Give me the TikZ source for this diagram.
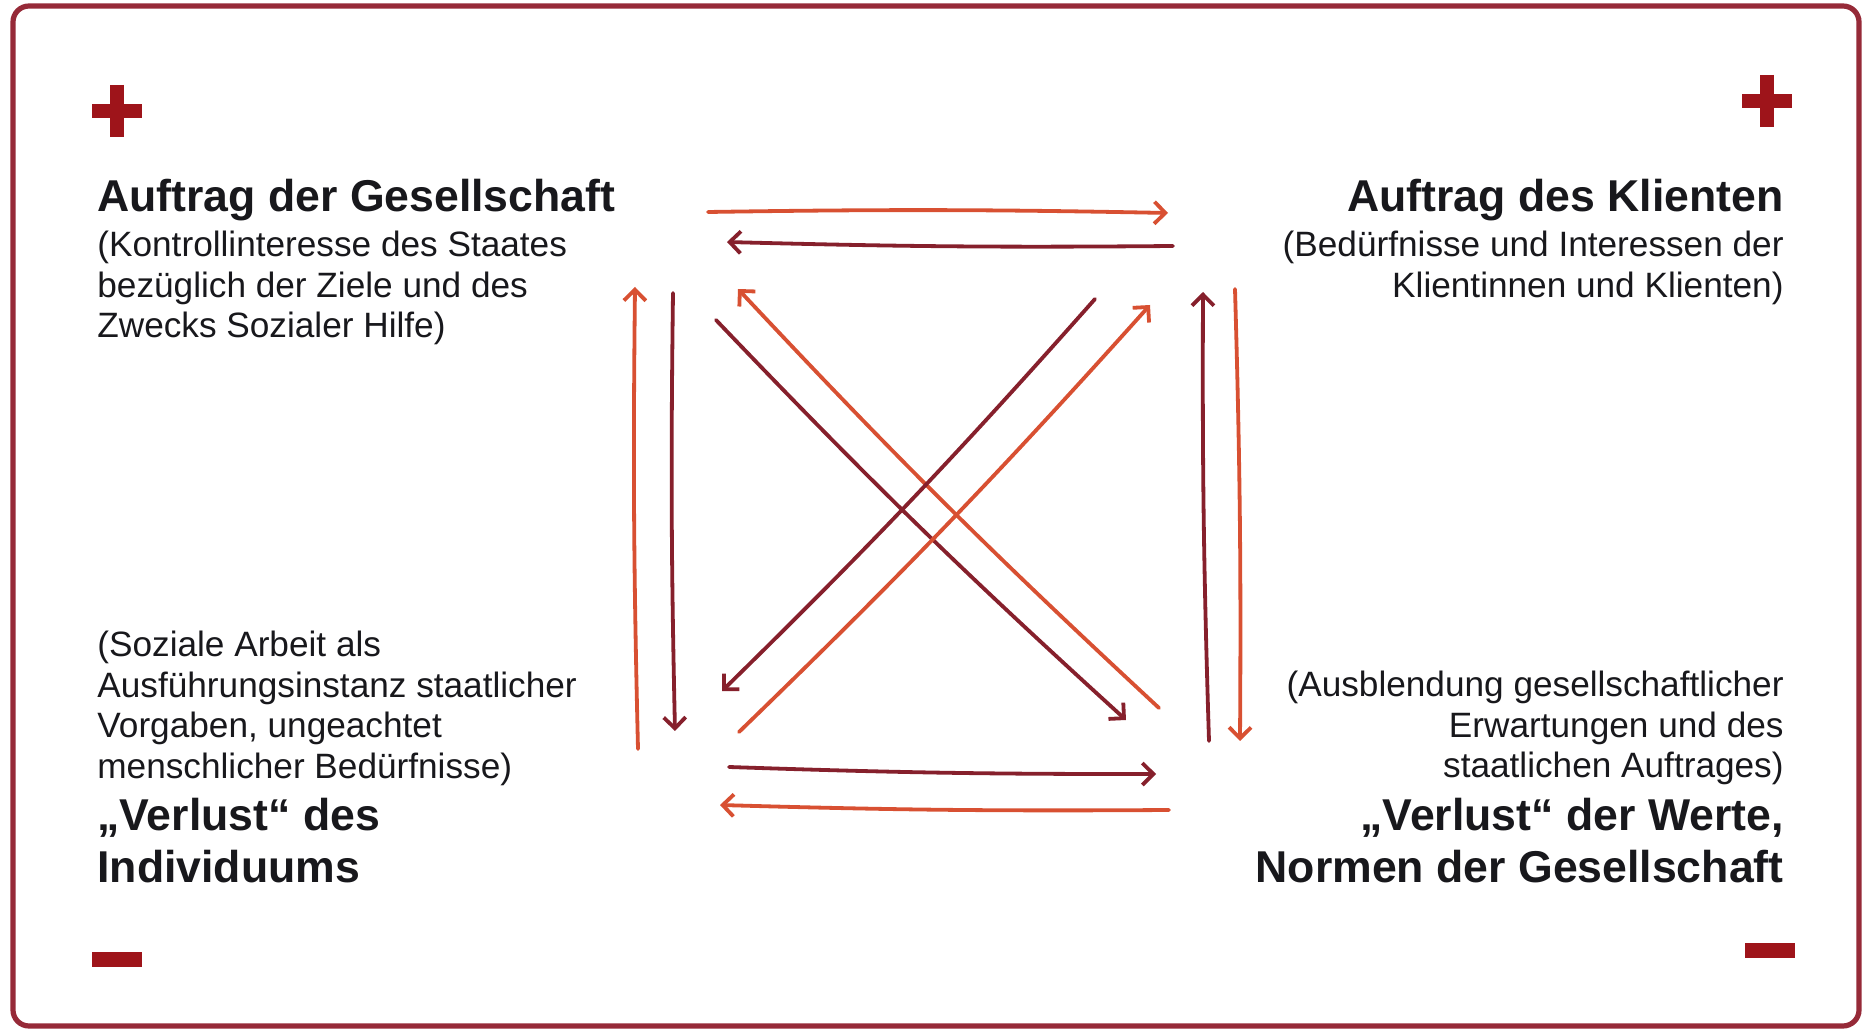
\documentclass[tikz,border=0pt]{standalone}
\usepackage{fontspec}
\setmainfont{Liberation Sans}
\usetikzlibrary{arrows.meta}
\usepackage{xcolor}
\definecolor{frame}{RGB}{150,42,56}
\definecolor{warm}{RGB}{216,80,50}
\definecolor{deep}{RGB}{134,32,44}
\definecolor{signred}{RGB}{158,20,26}
\definecolor{ink}{RGB}{24,24,28}

\tikzset{
  head/.style={font=\fontsize{22.3}{26}\selectfont\bfseries, text=ink, inner sep=0pt},
  note/.style={font=\fontsize{17.6}{20.25}\selectfont, text=ink, inner sep=0pt},
  link/.style={line width=1.9pt, line cap=round,
    -{Straight Barb[length=5.5pt,width=11pt]}},
  warmlink/.style={link, draw=warm},
  deeplink/.style={link, draw=deep},
  sign/.style={draw=signred, line width=7pt}
}
\newcommand{\cornerlines}[2]{\begin{tabular}[t]{@{}#1@{}}#2\end{tabular}}

\begin{document}
\begin{tikzpicture}[x=0.5pt, y=-0.5pt]
\useasboundingbox (0,0) rectangle (1865,1031);
\fill[white] (0,0) rectangle (1865,1031);
\draw[frame, line width=2.6pt, rounded corners=8pt] (13,6) rectangle (1859,1026);

% plus and minus marks
\coordinate (plusL) at (117,111);
\coordinate (plusR) at (1767,101);
\coordinate (minusL) at (117,959);
\coordinate (minusR) at (1770,950);
\draw[sign] ([xshift=-12.5pt]plusL) -- ([xshift=12.5pt]plusL)
            ([yshift=13pt]plusL) -- ([yshift=-13pt]plusL);
\draw[sign] ([xshift=-12.5pt]plusR) -- ([xshift=12.5pt]plusR)
            ([yshift=13pt]plusR) -- ([yshift=-13pt]plusR);
\draw[sign, line width=7.5pt] ([xshift=-12.5pt]minusL) -- ([xshift=12.5pt]minusL);
\draw[sign, line width=7.5pt] ([xshift=-12.5pt]minusR) -- ([xshift=12.5pt]minusR);

% corner texts
\node[head, anchor=base west] (gesTitle) at (97,212) {Auftrag der Gesellschaft};
\node[note, anchor=base west] (gesNote) at (97,257)
  {\cornerlines{l}{(Kontrollinteresse des Staates\\ bezüglich der Ziele und des\\ Zwecks Sozialer Hilfe)}};
\node[head, anchor=base east] (kliTitle) at (1784,212) {Auftrag des Klienten};
\node[note, anchor=base east] (kliNote) at (1784,257)
  {\cornerlines{r}{(Bedürfnisse und Interessen der\\ Klientinnen und Klienten)}};
\node[note, anchor=base west] (indNote) at (97,657)
  {\cornerlines{l}{(Soziale Arbeit als\\ Ausführungsinstanz staatlicher\\ Vorgaben, ungeachtet\\ menschlicher Bedürfnisse)}};
\node[head, anchor=base west] (indLoss) at (97,831)
  {\cornerlines{l}{„Verlust“ des\\ Individuums}};
\node[note, anchor=base east] (normNote) at (1784,697)
  {\cornerlines{r}{(Ausblendung gesellschaftlicher\\ Erwartungen und des\\ staatlichen Auftrages)}};
\node[head, anchor=base east] (normLoss) at (1784,831)
  {\cornerlines{r}{„Verlust“ der Werte,\\ Normen der Gesellschaft}};

% arrow ends
\coordinate (t1a) at (708,212);  \coordinate (t1b) at (1168,213);
\coordinate (t2a) at (1173,246); \coordinate (t2b) at (727,242);
\coordinate (l1a) at (638,749);  \coordinate (l1b) at (635,287);
\coordinate (l2a) at (673,293);  \coordinate (l2b) at (675,731);
\coordinate (r1a) at (1209,741); \coordinate (r1b) at (1203,292);
\coordinate (r2a) at (1235,289); \coordinate (r2b) at (1240,741);
\coordinate (b1a) at (729,767);  \coordinate (b1b) at (1156,774);
\coordinate (b2a) at (1169,810); \coordinate (b2b) at (720,805);
\coordinate (d1a) at (716,320);  \coordinate (d1b) at (1126,720);
\coordinate (d2a) at (1159,708); \coordinate (d2b) at (738,289);
\coordinate (d3a) at (1095,299); \coordinate (d3b) at (722,691);
\coordinate (d4a) at (739,732);  \coordinate (d4b) at (1150,305);

% arrows
\draw[warmlink] (t1a) to[bend left=1] (t1b);
\draw[deeplink] (t2a) to[bend left=1] (t2b);
\draw[warmlink] (l1a) to[bend left=1] (l1b);
\draw[deeplink] (l2a) to[bend right=1] (l2b);
\draw[deeplink] (r1a) to[bend left=1] (r1b);
\draw[warmlink] (r2a) to[bend left=1] (r2b);
\draw[deeplink] (b1a) to[bend right=1] (b1b);
\draw[warmlink] (b2a) to[bend left=1] (b2b);
\draw[deeplink] (d1a) to[bend right=2] (d1b);
\draw[warmlink] (d2a) to[bend left=2] (d2b);
\draw[deeplink] (d3a) to[bend left=2] (d3b);
\draw[warmlink] (d4a) to[bend right=2] (d4b);
\end{tikzpicture}
\end{document}
